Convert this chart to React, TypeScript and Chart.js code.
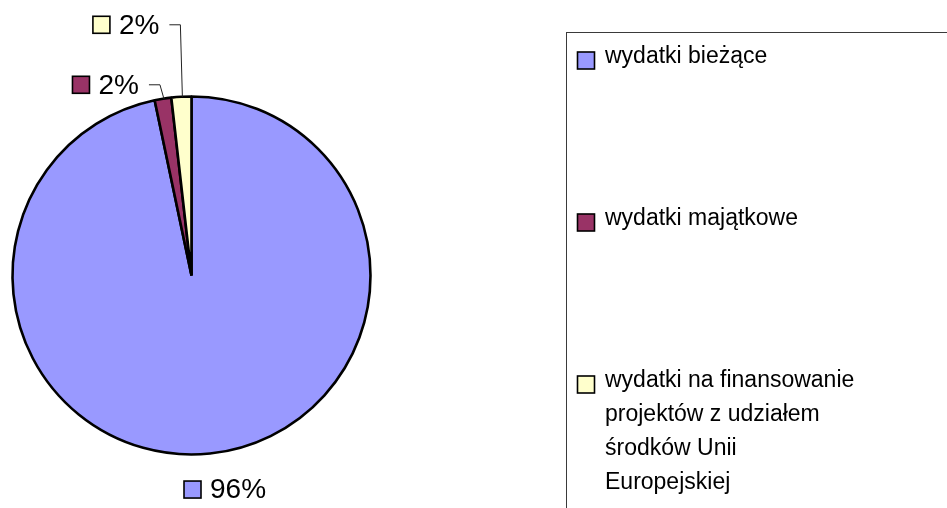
import React, { useEffect, useRef } from 'react';
import { Chart, registerables } from 'chart.js';

Chart.register(...registerables);

// ---- data ----
const categories = [
  'wydatki bieżące',
  'wydatki majątkowe',
  'wydatki na finansowanie projektów z udziałem środków Unii Europejskiej',
];
const legendLines = [
  ['wydatki bieżące'],
  ['wydatki majątkowe'],
  ['wydatki na finansowanie', 'projektów z udziałem', 'środków Unii', 'Europejskiej'],
];
const values = [96.7, 1.5, 1.8];
const percentLabels = ['96%', '2%', '2%'];
const colors = ['#9999FF', '#993366', '#FFFFCC'];

// ---- layout (not data) ----
const FONT = "'Liberation Sans', Arial, sans-serif";
const labelLayout = [
  { mode: 'below', dx: 15, dy: 36 },
  { mode: 'leader', ex: -3, ey: -14 },
  { mode: 'leader', ex: -1, ey: -72 },
];

const overlayPlugin = {
  id: 'overlay',
  afterDraw(chart: any) {
    const ctx = chart.ctx as CanvasRenderingContext2D;
    const meta = chart.getDatasetMeta(0);
    ctx.save();
    // data labels
    const markerSize = 17;
    const gap = 9;
    ctx.font = `28px ${FONT}`;
    ctx.textBaseline = 'middle';
    meta.data.forEach((arc: any, i: number) => {
      const { x, y, startAngle, endAngle, outerRadius } = arc.getProps(
        ['x', 'y', 'startAngle', 'endAngle', 'outerRadius'],
        true
      );
      const mid = (startAngle + endAngle) / 2;
      const ax = x + Math.cos(mid) * outerRadius;
      const ay = y + Math.sin(mid) * outerRadius;
      const text = percentLabels[i];
      const tw = ctx.measureText(text).width;
      const groupW = markerSize + gap + tw;
      const lay: any = labelLayout[i];
      let left: number, cy: number;
      if (lay.mode === 'below') {
        left = ax + lay.dx - groupW / 2;
        cy = ay + lay.dy;
      } else {
        const exX = ax + lay.ex;
        const exY = ay + lay.ey;
        ctx.strokeStyle = '#222';
        ctx.lineWidth = 1;
        ctx.beginPath();
        ctx.moveTo(ax + 1, ay);
        ctx.lineTo(exX, exY);
        ctx.lineTo(exX - 11, exY);
        ctx.stroke();
        const right = exX - 21;
        left = right - groupW;
        cy = exY;
      }
      ctx.fillStyle = colors[i];
      ctx.fillRect(left, cy - markerSize / 2, markerSize, markerSize);
      ctx.strokeStyle = '#000';
      ctx.lineWidth = 1.6;
      ctx.strokeRect(left, cy - markerSize / 2, markerSize, markerSize);
      ctx.fillStyle = '#000';
      ctx.textAlign = 'left';
      ctx.fillText(text, left + markerSize + gap, cy + 1);
    });

    // legend box
    const boxL = 566.5;
    const boxT = 32.5;
    ctx.strokeStyle = '#3a3a3a';
    ctx.lineWidth = 1;
    ctx.strokeRect(boxL, boxT, 600, 600);
    ctx.font = `23px ${FONT}`;
    ctx.textBaseline = 'alphabetic';
    const firstBaseline = 63;
    const rowPitch = 162;
    const linePitch = 34;
    legendLines.forEach((lines, i) => {
      const base = firstBaseline + i * rowPitch;
      const mx = 577.5;
      const my = base - 11;
      ctx.fillStyle = colors[i];
      ctx.fillRect(mx, my, markerSize, markerSize);
      ctx.strokeStyle = '#000';
      ctx.lineWidth = 1.6;
      ctx.strokeRect(mx, my, markerSize, markerSize);
      ctx.fillStyle = '#000';
      lines.forEach((ln, j) => {
        ctx.fillText(ln, 605, base + j * linePitch);
      });
    });
    ctx.restore();
  },
};

export default function App() {
  const ref = useRef<HTMLCanvasElement | null>(null);
  useEffect(() => {
    if (!ref.current) return;
    const chart = new Chart(ref.current, {
      type: 'pie',
      data: {
        labels: categories,
        datasets: [
          {
            data: values,
            backgroundColor: colors,
            borderColor: '#000',
            borderWidth: 2.6,
          },
        ],
      },
      options: {
        responsive: false,
        animation: false,
        radius: 179,
        layout: { padding: { left: 12, right: 576, top: 97, bottom: 54 } },
        plugins: {
          legend: { display: false },
          tooltip: { enabled: false },
        },
      } as any,
      plugins: [overlayPlugin],
    });
    return () => chart.destroy();
  }, []);
  return (
    <div style={{ position: 'absolute', left: 0, top: 0, width: 947, height: 508, background: '#fff' }}>
      <canvas ref={ref} width={947} height={508} style={{ display: 'block' }} />
    </div>
  );
}
